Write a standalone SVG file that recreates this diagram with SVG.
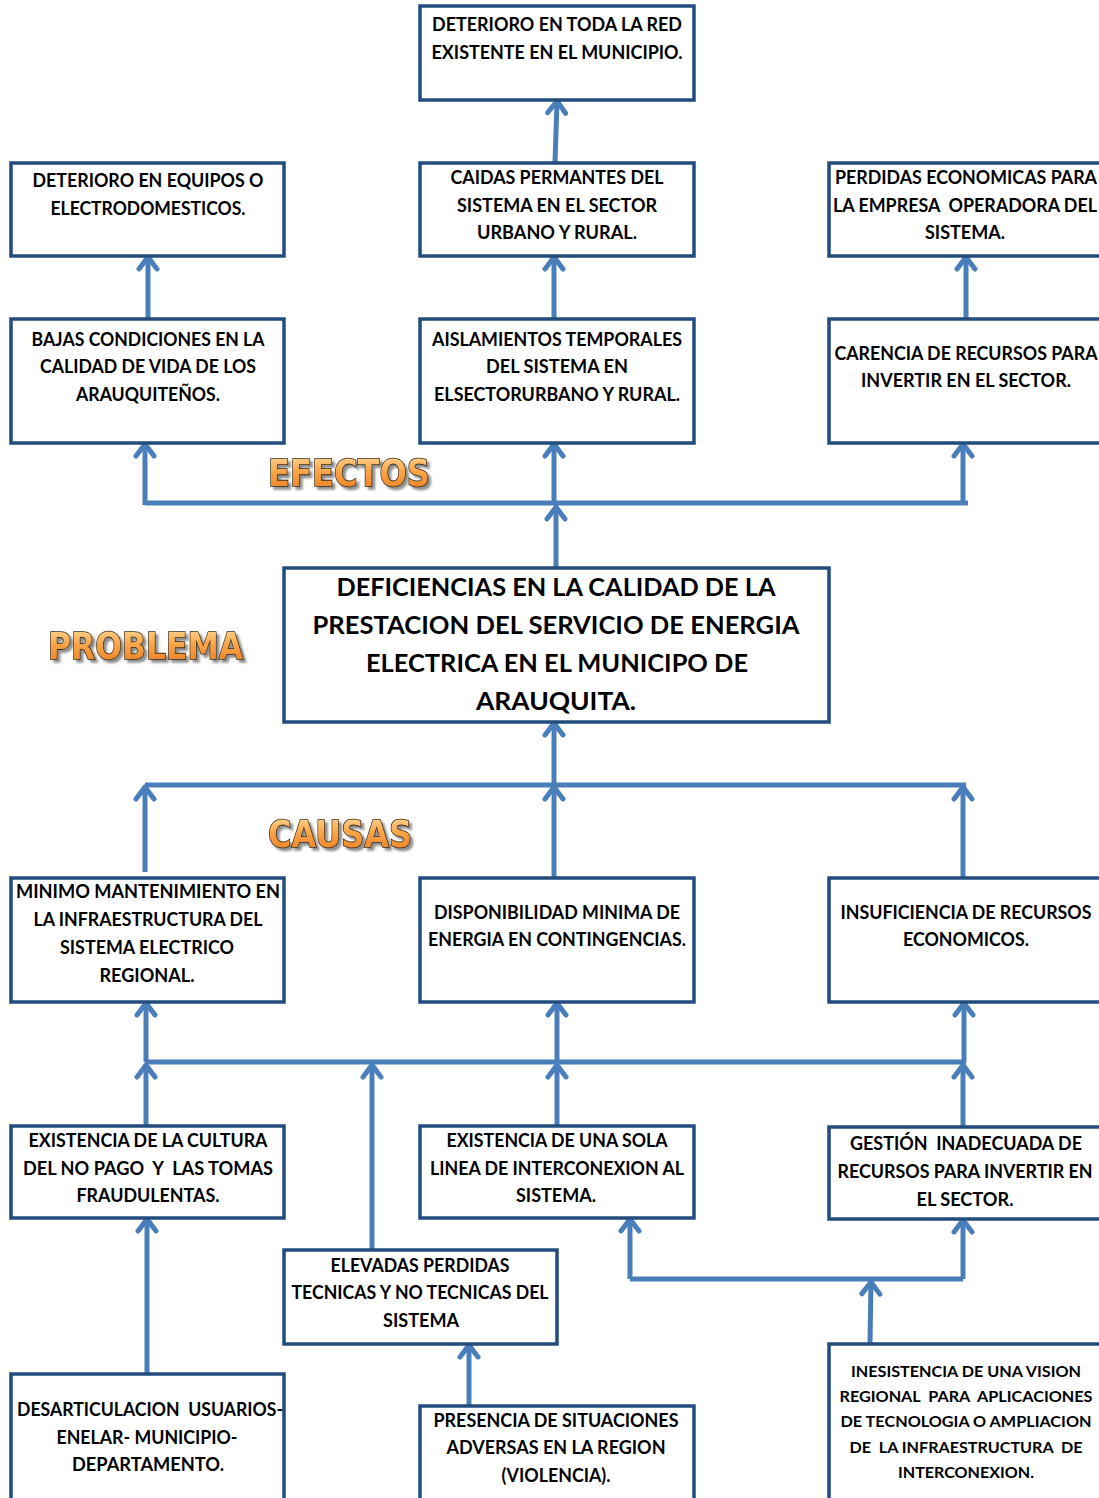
<svg xmlns="http://www.w3.org/2000/svg" width="1099" height="1498" viewBox="0 0 1099 1498">
<defs>
<style>
.box{fill:#fff;stroke:#234c7e;stroke-width:3.5}
.t{font-family:Lato,"Liberation Sans",sans-serif;font-weight:700;font-size:18px;fill:#000;text-anchor:middle}
.tb{font-size:25px}
.ts{font-size:16px}
.c{fill:none;stroke:#4a7ebb;stroke-width:5}
.lbl{font-family:"DejaVu Sans","Liberation Sans",sans-serif;font-weight:700;font-size:38px;fill:url(#og);stroke:#3b2a12;stroke-width:1.6;paint-order:stroke;filter:url(#ds)}
</style>
<linearGradient id="og" x1="0" y1="0" x2="0" y2="1">
<stop offset="0" stop-color="#fde3a6"/>
<stop offset="0.45" stop-color="#f9a64a"/>
<stop offset="1" stop-color="#e8781c"/>
</linearGradient>
<filter id="ds" x="-10%" y="-20%" width="130%" height="150%">
<feDropShadow dx="3" dy="3" stdDeviation="0.8" flood-color="#444" flood-opacity="0.6"/>
</filter>
<marker id="ah" markerUnits="userSpaceOnUse" viewBox="-16 -12 20 24" refX="0" refY="0" markerWidth="20" markerHeight="24" orient="auto" overflow="visible">
<path d="M-12,-9 L0,0 L-12,9" fill="none" stroke="#4a7ebb" stroke-width="5" stroke-linecap="round" stroke-linejoin="round"/>
</marker>
</defs>
<rect width="1099" height="1498" fill="#fff"/>

<g id="connectors">
<path class="c" d="M555,162 L557,101" marker-end="url(#ah)"/>
<path class="c" d="M148,318 L148,257" marker-end="url(#ah)"/>
<path class="c" d="M554,318 L554,257" marker-end="url(#ah)"/>
<path class="c" d="M966,318 L966,257" marker-end="url(#ah)"/>
<path class="c" d="M145,503 L968,503"/>
<path class="c" d="M145,505 L145,444" marker-end="url(#ah)"/>
<path class="c" d="M554,503 L554,444" marker-end="url(#ah)"/>
<path class="c" d="M963,505 L963,444" marker-end="url(#ah)"/>
<path class="c" d="M556,567 L556,507" marker-end="url(#ah)"/>
<path class="c" d="M554,785 L554,723" marker-end="url(#ah)"/>
<path class="c" d="M145,785 L966,785"/>
<path class="c" d="M145,872 L145,787" marker-end="url(#ah)"/>
<path class="c" d="M554,877 L554,787" marker-end="url(#ah)"/>
<path class="c" d="M963,877 L963,787" marker-end="url(#ah)"/>
<path class="c" d="M145,1062 L966,1062"/>
<path class="c" d="M146,1062 L146,1003" marker-end="url(#ah)"/>
<path class="c" d="M557,1062 L557,1003" marker-end="url(#ah)"/>
<path class="c" d="M964,1062 L964,1003" marker-end="url(#ah)"/>
<path class="c" d="M146,1126 L146,1065" marker-end="url(#ah)"/>
<path class="c" d="M557,1126 L557,1065" marker-end="url(#ah)"/>
<path class="c" d="M963,1126 L963,1065" marker-end="url(#ah)"/>
<path class="c" d="M372,1249 L372,1065" marker-end="url(#ah)"/>
<path class="c" d="M147,1373 L147,1219" marker-end="url(#ah)"/>
<path class="c" d="M469,1405 L469,1345" marker-end="url(#ah)"/>
<path class="c" d="M630,1279 L963,1279"/>
<path class="c" d="M630,1279 L630,1219" marker-end="url(#ah)"/>
<path class="c" d="M963,1279 L963,1220" marker-end="url(#ah)"/>
<path class="c" d="M870,1343 L871,1282" marker-end="url(#ah)"/>
</g>

<g id="n_top"><rect class="box" x="420" y="6" width="274" height="94"/>
<text class="t" x="557" y="31" textLength="250" lengthAdjust="spacingAndGlyphs">DETERIORO EN TODA LA RED</text>
<text class="t" x="557" y="59" textLength="251" lengthAdjust="spacingAndGlyphs">EXISTENTE EN EL MUNICIPIO.</text></g>

<g id="n_e1l"><rect class="box" x="11" y="163" width="273" height="93"/>
<text class="t" x="148" y="187" textLength="231" lengthAdjust="spacingAndGlyphs">DETERIORO EN EQUIPOS O</text>
<text class="t" x="148" y="215" textLength="195" lengthAdjust="spacingAndGlyphs">ELECTRODOMESTICOS.</text></g>

<g id="n_e1m"><rect class="box" x="420" y="163" width="274" height="93"/>
<text class="t" x="557" y="184" textLength="213" lengthAdjust="spacingAndGlyphs">CAIDAS PERMANTES DEL</text>
<text class="t" x="557" y="212" textLength="200" lengthAdjust="spacingAndGlyphs">SISTEMA EN EL SECTOR</text>
<text class="t" x="557" y="239" textLength="160" lengthAdjust="spacingAndGlyphs">URBANO Y RURAL.</text></g>

<g id="n_e1r"><rect class="box" x="829" y="163" width="285" height="93"/>
<text class="t" x="966" y="184" textLength="262" lengthAdjust="spacingAndGlyphs">PERDIDAS ECONOMICAS PARA</text>
<text class="t" x="965" y="212" textLength="264" lengthAdjust="spacingAndGlyphs" xml:space="preserve">LA EMPRESA  OPERADORA DEL</text>
<text class="t" x="965" y="239" textLength="80" lengthAdjust="spacingAndGlyphs">SISTEMA.</text></g>

<g id="n_e2l"><rect class="box" x="11" y="319" width="273" height="124"/>
<text class="t" x="148" y="346" textLength="233" lengthAdjust="spacingAndGlyphs">BAJAS CONDICIONES EN LA</text>
<text class="t" x="148" y="373" textLength="216" lengthAdjust="spacingAndGlyphs">CALIDAD DE VIDA DE LOS</text>
<text class="t" x="148" y="401" textLength="144" lengthAdjust="spacingAndGlyphs">ARAUQUITEÑOS.</text></g>

<g id="n_e2m"><rect class="box" x="420" y="319" width="274" height="124"/>
<text class="t" x="557" y="346" textLength="250" lengthAdjust="spacingAndGlyphs">AISLAMIENTOS TEMPORALES</text>
<text class="t" x="557" y="373" textLength="142" lengthAdjust="spacingAndGlyphs">DEL SISTEMA EN</text>
<text class="t" x="557" y="401" textLength="246" lengthAdjust="spacingAndGlyphs">ELSECTORURBANO Y RURAL.</text></g>

<g id="n_e2r"><rect class="box" x="829" y="319" width="285" height="124"/>
<text class="t" x="966" y="360" textLength="263" lengthAdjust="spacingAndGlyphs">CARENCIA DE RECURSOS PARA</text>
<text class="t" x="966" y="387" textLength="210" lengthAdjust="spacingAndGlyphs">INVERTIR EN EL SECTOR.</text></g>

<g id="n_problem"><rect class="box" x="284" y="568" width="545" height="154"/>
<text class="t tb" x="556" y="596" textLength="439" lengthAdjust="spacingAndGlyphs">DEFICIENCIAS EN LA CALIDAD DE LA</text>
<text class="t tb" x="556" y="634" textLength="487" lengthAdjust="spacingAndGlyphs">PRESTACION DEL SERVICIO DE ENERGIA</text>
<text class="t tb" x="557" y="672" textLength="382" lengthAdjust="spacingAndGlyphs">ELECTRICA EN EL MUNICIPO DE</text>
<text class="t tb" x="556" y="710" textLength="160" lengthAdjust="spacingAndGlyphs">ARAUQUITA.</text></g>

<g id="lbl_efectos"><text class="lbl" x="268" y="486" textLength="162" lengthAdjust="spacingAndGlyphs">EFECTOS</text></g>
<g id="lbl_problema"><text class="lbl" x="48" y="659" textLength="195" lengthAdjust="spacingAndGlyphs">PROBLEMA</text></g>
<g id="lbl_causas"><text class="lbl" x="268" y="847" textLength="144" lengthAdjust="spacingAndGlyphs">CAUSAS</text></g>

<g id="n_c1l"><rect class="box" x="11" y="878" width="273" height="124"/>
<text class="t" x="148" y="898" textLength="264" lengthAdjust="spacingAndGlyphs">MINIMO MANTENIMIENTO EN</text>
<text class="t" x="148" y="926" textLength="229" lengthAdjust="spacingAndGlyphs">LA INFRAESTRUCTURA DEL</text>
<text class="t" x="147" y="954" textLength="174" lengthAdjust="spacingAndGlyphs">SISTEMA ELECTRICO</text>
<text class="t" x="147" y="982" textLength="95" lengthAdjust="spacingAndGlyphs">REGIONAL.</text></g>

<g id="n_c1m"><rect class="box" x="420" y="878" width="274" height="124"/>
<text class="t" x="557" y="919" textLength="246" lengthAdjust="spacingAndGlyphs">DISPONIBILIDAD MINIMA DE</text>
<text class="t" x="557" y="946" textLength="258" lengthAdjust="spacingAndGlyphs">ENERGIA EN CONTINGENCIAS.</text></g>

<g id="n_c1r"><rect class="box" x="829" y="878" width="285" height="124"/>
<text class="t" x="966" y="919" textLength="251" lengthAdjust="spacingAndGlyphs">INSUFICIENCIA DE RECURSOS</text>
<text class="t" x="966" y="946" textLength="126" lengthAdjust="spacingAndGlyphs">ECONOMICOS.</text></g>

<g id="n_c2l"><rect class="box" x="11" y="1126" width="273" height="92"/>
<text class="t" x="148" y="1147" textLength="239" lengthAdjust="spacingAndGlyphs">EXISTENCIA DE LA CULTURA</text>
<text class="t" x="148" y="1175" textLength="250" lengthAdjust="spacingAndGlyphs" xml:space="preserve">DEL NO PAGO  Y  LAS TOMAS</text>
<text class="t" x="148" y="1202" textLength="143" lengthAdjust="spacingAndGlyphs">FRAUDULENTAS.</text></g>

<g id="n_c2m"><rect class="box" x="420" y="1126" width="274" height="92"/>
<text class="t" x="557" y="1147" textLength="221" lengthAdjust="spacingAndGlyphs">EXISTENCIA DE UNA SOLA</text>
<text class="t" x="557" y="1175" textLength="254" lengthAdjust="spacingAndGlyphs">LINEA DE INTERCONEXION AL</text>
<text class="t" x="556" y="1202" textLength="80" lengthAdjust="spacingAndGlyphs">SISTEMA.</text></g>

<g id="n_c2r"><rect class="box" x="829" y="1127" width="285" height="92"/>
<text class="t" x="966" y="1150" textLength="232" lengthAdjust="spacingAndGlyphs" xml:space="preserve">GESTIÓN  INADECUADA DE</text>
<text class="t" x="965" y="1178" textLength="255" lengthAdjust="spacingAndGlyphs">RECURSOS PARA INVERTIR EN</text>
<text class="t" x="965" y="1206" textLength="97" lengthAdjust="spacingAndGlyphs">EL SECTOR.</text></g>

<g id="n_elev"><rect class="box" x="284" y="1250" width="273" height="94"/>
<text class="t" x="420" y="1272" textLength="179" lengthAdjust="spacingAndGlyphs">ELEVADAS PERDIDAS</text>
<text class="t" x="420" y="1299" textLength="257" lengthAdjust="spacingAndGlyphs">TECNICAS Y NO TECNICAS DEL</text>
<text class="t" x="421" y="1327" textLength="76" lengthAdjust="spacingAndGlyphs">SISTEMA</text></g>

<g id="n_des"><rect class="box" x="11" y="1374" width="273" height="140"/>
<text class="t" x="150" y="1416" textLength="266" lengthAdjust="spacingAndGlyphs" xml:space="preserve">DESARTICULACION  USUARIOS-</text>
<text class="t" x="147" y="1444" textLength="181" lengthAdjust="spacingAndGlyphs">ENELAR- MUNICIPIO-</text>
<text class="t" x="148" y="1471" textLength="152" lengthAdjust="spacingAndGlyphs">DEPARTAMENTO.</text></g>

<g id="n_pres"><rect class="box" x="420" y="1406" width="274" height="110"/>
<text class="t" x="556" y="1427" textLength="245" lengthAdjust="spacingAndGlyphs">PRESENCIA DE SITUACIONES</text>
<text class="t" x="556" y="1454" textLength="219" lengthAdjust="spacingAndGlyphs">ADVERSAS EN LA REGION</text>
<text class="t" x="556" y="1482" textLength="109" lengthAdjust="spacingAndGlyphs">(VIOLENCIA).</text></g>

<g id="n_ines"><rect class="box" x="829" y="1344" width="285" height="170"/>
<text class="t ts" x="966" y="1377" textLength="230" lengthAdjust="spacingAndGlyphs">INESISTENCIA DE UNA VISION</text>
<text class="t ts" x="966" y="1402" textLength="253" lengthAdjust="spacingAndGlyphs" xml:space="preserve">REGIONAL  PARA  APLICACIONES</text>
<text class="t ts" x="966" y="1427" textLength="251" lengthAdjust="spacingAndGlyphs">DE TECNOLOGIA O AMPLIACION</text>
<text class="t ts" x="966" y="1453" textLength="233" lengthAdjust="spacingAndGlyphs" xml:space="preserve">DE  LA INFRAESTRUCTURA  DE</text>
<text class="t ts" x="966" y="1478" textLength="136" lengthAdjust="spacingAndGlyphs">INTERCONEXION.</text></g>
</svg>
